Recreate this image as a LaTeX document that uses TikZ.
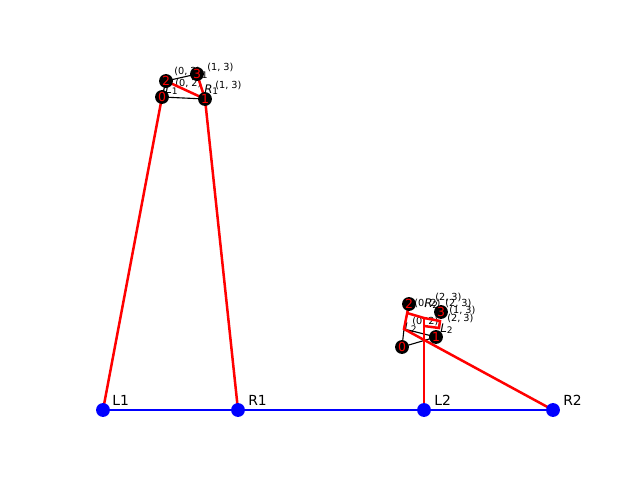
\documentclass[tikz,border=0pt]{standalone}
\usepackage{fontspec}
\setmainfont{DejaVu Sans}
\tikzset{
  vtx/.style={circle, fill=black, inner sep=0pt, minimum size=10pt, text=red, font=\fontsize{9}{9}\selectfont},
  gnd/.style={circle, fill=blue, inner sep=0pt, minimum size=10pt},
  gname/.style={anchor=base west, inner sep=0pt, font=\fontsize{10}{10}\selectfont},
  tag/.style={anchor=base west, inner sep=0pt, font=\fontsize{7}{7}\selectfont},
  tie/.style={draw=red, line width=1.8pt},
  rod/.style={draw=black, line width=0.8pt},
  base/.style={draw=blue, line width=1.2pt},
}
\newcommand\sidename[2]{{\fontsize{8.5}{8.5}\selectfont\textit{#1}}\raisebox{-0.35ex}{\fontsize{6.5}{6.5}\selectfont #2}}
\pgfdeclarelayer{tags}
\pgfdeclarelayer{edges}
\pgfsetlayers{tags,edges,main}

\begin{document}
\begin{tikzpicture}[x=0.72pt, y=-0.72pt]
\useasboundingbox (0,0) rectangle (640,480);
% ground points
\node[gnd] (L1) at (103,410) {};
\node[gnd] (R1) at (238,410) {};
\node[gnd] (L2) at (424,410) {};
\node[gnd] (R2) at (553,410) {};
\node[gname] at (112,405) {L1};
\node[gname] at (248,405) {R1};
\node[gname] at (434,405) {L2};
\node[gname] at (563,405) {R2};
% upper body
\node[vtx] (a0) at (162,97) {0};
\node[vtx] (a1) at (205,99) {1};
\node[vtx] (a2) at (166,81) {2};
\node[vtx] (a3) at (197,74) {3};
% lower body
\node[vtx] (b0) at (402,347) {0};
\node[vtx] (b1) at (436,337) {1};
\node[vtx] (b2) at (409,304) {2};
\node[vtx] (b3) at (441,312) {3};
\coordinate (p) at (404,329);
\coordinate (q) at (407,313);
\coordinate (s) at (424,318);
\coordinate (t) at (440,321);
\coordinate (u) at (439,328);
\coordinate (v) at (424,326);
\begin{pgfonlayer}{tags}
\node[tag] at (174,74) {(0, 2)};
\node[tag] at (175,86) {(0, 2)};
\node[tag] at (165,93) {\sidename{L}{1}};
\node[tag] at (195,77) {\sidename{L}{1}};
\node[tag] at (207,70) {(1, 3)};
\node[tag] at (204,93) {\sidename{R}{1}};
\node[tag] at (215,88) {(1, 3)};
\node[tag] at (435,300) {(2, 3)};
\node[tag] at (414,306) {(0, 2)};
\node[tag] at (424,307) {\sidename{R}{2}};
\node[tag] at (445,306) {(2, 3)};
\node[tag] at (449,313) {(1, 3)};
\node[tag] at (447,321) {(2, 3)};
\node[tag] at (412,324) {(0, 2)};
\node[tag] at (404,331) {\sidename{L}{2}};
\node[tag] at (440,332) {\sidename{L}{2}};
\end{pgfonlayer}
\begin{pgfonlayer}{edges}
\draw[base] (L1.center) -- (R2.center);
\draw[rod] (a0.center) -- (a1.center);
\draw[rod] (a0.center) -- (a2.center);
\draw[rod] (a2.center) -- (a3.center);
\draw[tie] (a0.center) -- (L1.center);
\draw[tie] (a1.center) -- (R1.center);
\draw[tie] (a2.center) -- (a1.center);
\draw[tie] (a3.center) -- (a1.center);
\draw[rod] (b0.center) -- (b1.center);
\draw[rod] (b0.center) -- (p) -- (b1.center);
\draw[tie] (b2.center) -- (p) -- (R2.center);
\draw[tie] (q) -- (s) -- (t) -- (u) -- (v);
\draw[tie] (s) -- (L2.center);
\end{pgfonlayer}
\end{tikzpicture}
\end{document}
